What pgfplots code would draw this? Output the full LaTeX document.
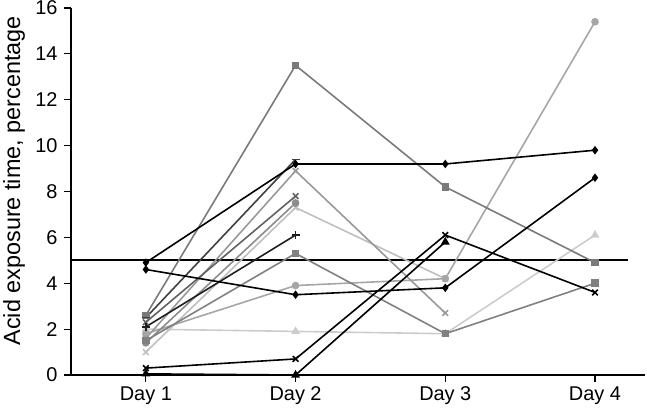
\documentclass[border=0pt]{standalone}
\usepackage{pgfplots}
\pgfplotsset{compat=1.18}
\usepackage{fontspec}
\setmainfont{Liberation Sans}
\definecolor{gB}{gray}{0.48}
\definecolor{gC}{gray}{0.65}
\definecolor{gF}{gray}{0.80}
\definecolor{gG}{gray}{0.50}
\definecolor{gI}{gray}{0.60}
\definecolor{gJ}{gray}{0.75}
\definecolor{gK}{gray}{0.25}
\definecolor{gL}{gray}{0.38}
\definecolor{gM}{gray}{0.55}
\definecolor{gN}{gray}{0.12}
\begin{document}
\begin{tikzpicture}
\begin{axis}[
  name=ax,
  scale only axis,
  width=574bp, height=367bp,
  xmin=0.5, xmax=4.334,
  ymin=0, ymax=16,
  axis lines=left,
  axis line style={line width=1.3pt, -},
  xtick={1,2,3,4},
  xticklabels={Day 1,Day 2,Day 3,Day 4},
  ytick={0,2,...,16},
  tick align=outside,
  major tick length=7bp,
  tick style={line width=1.1pt, black},
  /pgf/number format/assume math mode=true,
  ticklabel style={font=\fontsize{20}{23}\selectfont},
  xticklabel style={yshift=-1bp},
  yticklabel style={xshift=-3bp},
  ylabel={Acid exposure time, percentage},
  ylabel style={font=\fontsize{23.5}{27}\selectfont, at={(axis description cs:-0.099,0.529)}, anchor=center},
  every axis plot/.append style={line width=1.6pt, mark size=3pt},
  clip=false,
]
% threshold line
\addplot[black, line width=2.2pt, mark=none] coordinates {(0.5,5) (4.22,5)};
% series
\addplot[color=gF, mark=triangle*, mark size=3.5pt] coordinates {(1,2.0) (2,1.9) (3,1.8) (4,6.1)};
\addplot[color=gJ, mark=x, mark size=4pt] coordinates {(1,1.0) (2,7.3) (3,4.2)};
\addplot[color=gC, mark=*] coordinates {(1,1.8) (2,3.9) (3,4.2) (4,15.4)};
\addplot[color=gI, mark=x, mark size=4pt] coordinates {(1,1.6) (2,8.9) (3,2.7)};
\addplot[color=gM, mark=*] coordinates {(1,1.4) (2,7.5)};
\addplot[color=gG, mark=square*] coordinates {(1,1.5) (2,5.3) (3,1.8) (4,4.0)};
\addplot[color=gB, mark=square*] coordinates {(1,2.6) (2,13.5) (3,8.2) (4,4.9)};
\addplot[color=gL, mark=x, mark size=4pt] coordinates {(1,2.3) (2,7.8)};
\addplot[color=gK, mark=-, mark size=4pt] coordinates {(1,2.5) (2,9.4)};
\addplot[color=gN, mark=+, mark size=4pt] coordinates {(1,2.1) (2,6.1)};
\addplot[color=black, mark=triangle*, mark size=3.5pt] coordinates {(1,0.05) (2,0.0) (3,5.8)};
\addplot[color=black, mark=x, mark size=4pt] coordinates {(1,0.3) (2,0.7) (3,6.1) (4,3.6)};
\addplot[color=black, mark=diamond*] coordinates {(1,4.6) (2,3.5) (3,3.8) (4,8.6)};
\addplot[color=black, mark=diamond*] coordinates {(1,4.9) (2,9.2) (3,9.2) (4,9.8)};
\end{axis}
\pgfresetboundingbox
\path ([shift={(-71bp,-37bp)}]ax.south west) rectangle ([shift={(2bp,8bp)}]ax.north east);
\end{tikzpicture}
\end{document}
